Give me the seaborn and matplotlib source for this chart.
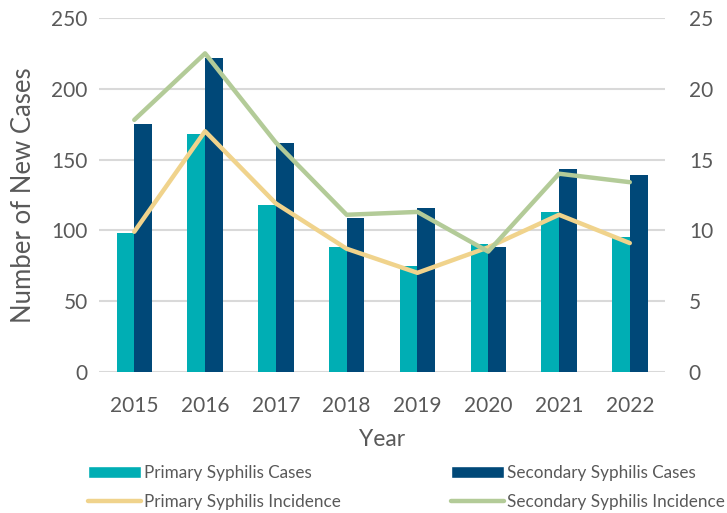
import numpy as np
import pandas as pd
import matplotlib
matplotlib.use("Agg")
import matplotlib.pyplot as plt
import seaborn as sns
from matplotlib.patches import Patch
from matplotlib.lines import Line2D

# Data
years = ["2015", "2016", "2017", "2018", "2019", "2020", "2021", "2022"]
primary_cases = [98, 168, 118, 88, 75, 90, 113, 95]
secondary_cases = [175, 222, 162, 109, 116, 88, 143, 139]
primary_incidence = [9.9, 17.0, 11.9, 8.7, 7.0, 8.8, 11.1, 9.1]
secondary_incidence = [17.8, 22.5, 16.2, 11.1, 11.3, 8.5, 14.0, 13.4]

teal = "#00AEB4"
navy = "#004878"
yellow = "#F0D38C"
green = "#B3CB98"
text_gray = "#595959"

sns.set_style("white")
plt.rcParams["font.family"] = ["Lato", "DejaVu Sans"]

bars = pd.DataFrame({
    "Year": years * 2,
    "Cases": primary_cases + secondary_cases,
    "Series": ["Primary Syphilis Cases"] * len(years) + ["Secondary Syphilis Cases"] * len(years),
})

fig = plt.figure(figsize=(7.27, 5.13), dpi=100)
ax = fig.add_axes([0.136, 0.275, 0.779, 0.69])

sns.barplot(data=bars, x="Year", y="Cases", hue="Series",
            palette=[teal, navy], width=0.5, gap=0, saturation=1,
            linewidth=0, legend=False, ax=ax)
ax.set_ylim(0, 250)
ax.set_xlim(-0.5, len(years) - 0.5)
ax.set_yticks(range(0, 251, 50))
ax.yaxis.grid(True, color="#D9D9D9", linewidth=1.5)
ax.set_axisbelow(True)
ax.set_ylabel("Number of New Cases", fontsize=18.5, color=text_gray, labelpad=11)
ax.set_xlabel("Year", fontsize=16.5, color=text_gray, labelpad=10)
ax.tick_params(axis="both", length=0, labelsize=15, colors=text_gray)
ax.tick_params(axis="x", pad=17)
ax.tick_params(axis="y", pad=8)
sns.despine(ax=ax, left=True, bottom=True)

ax2 = ax.twinx()
xpos = np.arange(len(years))
sns.lineplot(x=xpos, y=primary_incidence, color=yellow, linewidth=3.2, ax=ax2)
sns.lineplot(x=xpos, y=secondary_incidence, color=green, linewidth=3.2, ax=ax2)
ax2.set_ylim(0, 25)
ax2.set_yticks(range(0, 26, 5))
ax2.tick_params(axis="y", length=0, labelsize=15, colors=text_gray, pad=17)
for s in ax2.spines.values():
    s.set_visible(False)
ax2.set_xlim(-0.5, len(years) - 0.5)

handles = [
    Patch(facecolor=teal, label="Primary Syphilis Cases"),
    Line2D([0], [0], color=yellow, linewidth=3.2, label="Primary Syphilis Incidence"),
    Patch(facecolor=navy, label="Secondary Syphilis Cases"),
    Line2D([0], [0], color=green, linewidth=3.2, label="Secondary Syphilis Incidence"),
]
leg = fig.legend(handles=handles, ncol=2, loc="upper left", bbox_to_anchor=(0.121, 0.093),
                 frameon=False, fontsize=12.3, handlelength=3.1, handleheight=0.7,
                 handletextpad=0.2, columnspacing=6.4, labelspacing=0.75, borderpad=0,
                 borderaxespad=0)
for t in leg.get_texts():
    t.set_color(text_gray)

fig.savefig("out.png", dpi=100)
